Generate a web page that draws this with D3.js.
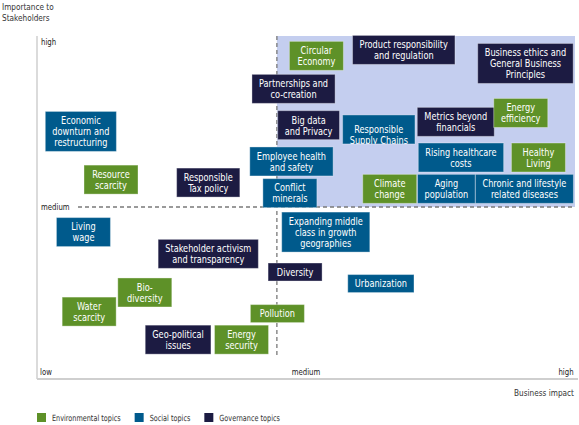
<!DOCTYPE html>
<html>
<head>
<meta charset="utf-8">
<script src="https://cdn.jsdelivr.net/npm/d3@7"></script>
<style>
  html, body { margin: 0; padding: 0; background: #ffffff; }
  svg { display: block; }
  text { font-family: "Liberation Sans Narrow", "DejaVu Sans Condensed", "Liberation Sans", sans-serif; }
</style>
</head>
<body>
<svg id="chart" width="579" height="425"></svg>
<script>
// ---------------- DATA ----------------
const topics = [
  "Circular\nEconomy",
  "Product responsibility\nand regulation",
  "Business ethics and\nGeneral Business\nPrinciples",
  "Partnerships and\nco-creation",
  "Big data\nand Privacy",
  "\nResponsible\nSupply Chains",
  "Metrics beyond\nfinancials",
  "Energy\nefficiency",
  "Rising healthcare\ncosts",
  "Healthy\nLiving",
  "Employee health\nand safety",
  "Conflict\nminerals",
  "Climate\nchange",
  "Aging\npopulation",
  "Chronic and lifestyle\nrelated diseases",
  "Economic\ndownturn and\nrestructuring",
  "Resource\nscarcity",
  "Responsible\nTax policy",
  "Living\nwage",
  "Stakeholder activism\nand transparency",
  "Expanding middle\nclass in growth\ngeographies",
  "Diversity",
  "Urbanization",
  "Bio-\ndiversity",
  "Water\nscarcity",
  "Pollution",
  "Geo-political\nissues",
  "Energy\nsecurity"
];
const topicGroup = [
  "Environmental", "Governance", "Governance", "Governance", "Governance",
  "Social", "Governance", "Environmental", "Social", "Environmental",
  "Social", "Social", "Environmental", "Social", "Social",
  "Social", "Environmental", "Governance", "Social", "Governance",
  "Social", "Governance", "Social", "Environmental", "Environmental",
  "Environmental", "Governance", "Environmental"
];
// Business impact (0 = low, 5 = medium, 10 = high)
const businessImpact = [
  5.20, 6.88, 9.22, 4.76, 5.05, 6.40, 7.88, 9.13, 7.98, 9.47,
  4.72, 4.69, 6.61, 7.70, 9.20, 0.67, 1.25, 3.12, 0.72, 3.12,
  5.38, 4.79, 6.44, 1.90, 0.83, 4.45, 2.54, 3.76
];
// Importance to stakeholders (0 = low, 5 = medium, 10 = high)
const stakeholderImportance = [
  9.58, 9.76, 9.35, 8.58, 7.48, 7.35, 7.58, 7.85, 6.50, 6.50,
  6.38, 5.42, 5.55, 5.55, 5.55, 7.29, 5.83, 5.74, 4.24, 3.58,
  4.24, 3.03, 2.68, 2.41, 1.83, 1.77, 0.98, 0.98
];
const groups = ["Environmental", "Social", "Governance"];
const legendLabels = ["Environmental topics", "Social topics", "Governance topics"];
const levelTicks = [0, 5, 10];
const levelLabels = ["low", "medium", "high"];
const impactThreshold = 4.44;   // start of the "material" zone on the impact axis
const importanceThreshold = 5;  // medium importance

// ---------------- LAYOUT ----------------
const svg = d3.select("#chart");
const frame = { left: 37, right: 578, top: 36, bottom: 379 };
const x = d3.scaleLinear().domain([0, 10]).range([46, 566]);
const y = d3.scaleLinear().domain([0, 10]).range([372, 42]);
const color = d3.scaleOrdinal().domain(groups).range(["#5e9128", "#005a8c", "#1c1b42"]);
const SX = 0.83; // horizontal condensing to mimic a narrow typeface

// condensed text helper: returns the text selection, drawn at (px,py)
function ctext(parent, px, py, str, size, anchor, fill, sx) {
  const g = parent.append("g").attr("transform", `translate(${px},${py}) scale(${sx || SX},1)`);
  return g.append("text").attr("x", 0).attr("y", 0).attr("dy", "0.35em")
    .attr("text-anchor", anchor || "start").attr("font-size", size).attr("fill", fill || "#333").text(str);
}

// axis titles
ctext(svg, 2, 7, "Importance to", 9.5, "start", "#333", 0.86);
ctext(svg, 2, 18, "Stakeholders", 9.5, "start", "#333", 0.86);
ctext(svg, 574, 393, "Business impact", 9.5, "end", "#333", 0.86);

// material zone
svg.append("rect")
  .attr("x", x(impactThreshold)).attr("y", frame.top)
  .attr("width", 575 - x(impactThreshold)).attr("height", y(importanceThreshold) - frame.top)
  .attr("fill", "#c4ceef");

// frame lines
svg.append("line").attr("x1", frame.left).attr("x2", frame.left).attr("y1", frame.top).attr("y2", frame.bottom)
  .attr("stroke", "#cfcfcf").attr("stroke-width", 1.5);
svg.append("line").attr("x1", frame.left).attr("x2", frame.right).attr("y1", frame.bottom).attr("y2", frame.bottom)
  .attr("stroke", "#cfcfcf").attr("stroke-width", 2);

// dashed threshold lines
svg.append("line").attr("x1", 78).attr("x2", 575).attr("y1", y(importanceThreshold)).attr("y2", y(importanceThreshold))
  .attr("stroke", "#7a7a7a").attr("stroke-width", 1.3).attr("stroke-dasharray", "4,3");
svg.append("line").attr("x1", x(impactThreshold)).attr("x2", x(impactThreshold)).attr("y1", frame.top).attr("y2", 358)
  .attr("stroke", "#7a7a7a").attr("stroke-width", 1.3).attr("stroke-dasharray", "4,3");

// y tick labels (high / medium)
levelTicks.forEach((t, i) => {
  if (t === 0) return;
  ctext(svg, 41, y(t), levelLabels[i], 9, "start", "#222", 0.86);
});
// x tick labels (low / medium / high)
levelTicks.forEach((t, i) => {
  ctext(svg, x(t), y(0), levelLabels[i], 9, "middle", "#222", 0.86);
});

// ---------------- TOPIC BOXES ----------------
const lineH = 11, minW = 54, padX = 14;
const defs = svg.append("defs");
const measure = svg.append("text").attr("font-size", 11).attr("visibility", "hidden");
function textW(s) { measure.text(s); return measure.node().getComputedTextLength() * SX; }

topics.forEach((label, i) => {
  const lines = label.split("\n");
  const nonBlank = lines.filter(l => l.length).length;
  const w = Math.max(minW, d3.max(lines, textW) + padX);
  const h = nonBlank * lineH + 7;
  const cx = x(businessImpact[i]), cy = y(stakeholderImportance[i]);
  const g = svg.append("g");
  const id = "clip" + i;
  defs.append("clipPath").attr("id", id).append("rect")
    .attr("x", cx - w / 2).attr("y", cy - h / 2).attr("width", w).attr("height", h);
  g.append("rect")
    .attr("x", cx - w / 2).attr("y", cy - h / 2).attr("width", w).attr("height", h)
    .attr("fill", color(topicGroup[i]))
    .attr("stroke", "rgba(255,255,255,0.35)").attr("stroke-width", 1);
  const tg = g.append("g").attr("clip-path", `url(#${id})`);
  const y0 = cy - (lines.length - 1) * lineH / 2;
  lines.forEach((l, k) => {
    if (!l.length) return;
    ctext(tg, cx, y0 + k * lineH, l, 11, "middle", "#ffffff");
  });
});
measure.remove();

// ---------------- LEGEND ----------------
let lx = 37;
groups.forEach((gname, i) => {
  svg.append("rect").attr("x", lx).attr("y", 413).attr("width", 9).attr("height", 9).attr("fill", color(gname));
  const tt = ctext(svg, lx + 15, 418, legendLabels[i], 8.5, "start", "#333", 0.85);
  lx += 15 + tt.node().getComputedTextLength() * 0.85 + 14;
});
</script>
</body>
</html>
